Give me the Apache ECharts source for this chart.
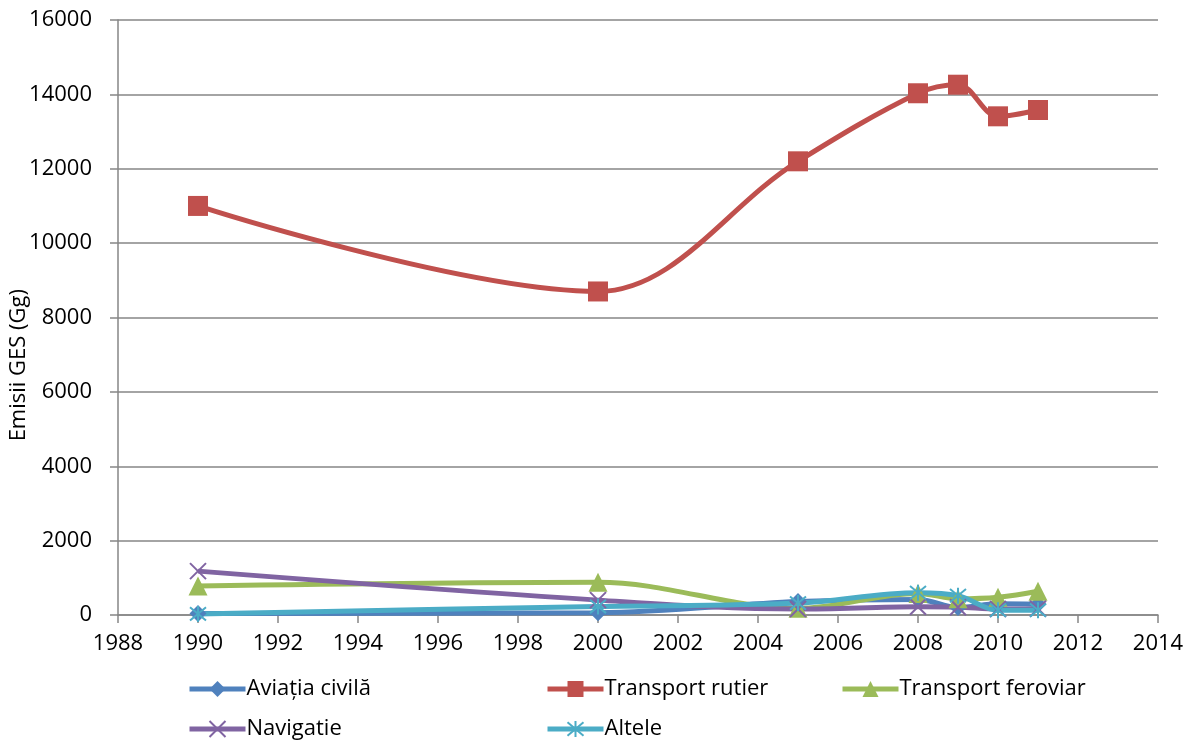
<!DOCTYPE html>
<html>
<head>
<meta charset="utf-8">
<script src="https://cdn.jsdelivr.net/npm/echarts@6/dist/echarts.min.js"></script>
<style>
  html, body { margin: 0; padding: 0; background: #fff; }
  #main { width: 1195px; height: 742px; }
</style>
</head>
<body>
<div id="main"></div>
<script>
// years of the inventory
var years = [1990, 2000, 2005, 2008, 2009, 2010, 2011];

// emisii GES (Gg) per sector
var aviatia   = [40, 60, 360, 420, 200, 300, 290];
var rutier    = [11000, 8700, 12200, 14030, 14260, 13410, 13580];
var feroviar  = [780, 880, 180, 580, 440, 480, 640];
var navigatie = [1180, 400, 160, 220, 210, 160, 170];
var altele    = [30, 230, 320, 600, 520, 130, 130];

var names = ['Aviația civilă', 'Transport rutier', 'Transport feroviar', 'Navigatie', 'Altele'];
var colors = ['#4F81BD', '#C0504D', '#9BBB59', '#8064A2', '#4BACC6'];

var xMark = 'path://M0,0L10,10M0,10L10,0';
var starMark = 'path://M0,0L10,10M0,10L10,0M5,-1L5,11';

function pairs(vals) {
  return years.map(function (y, i) { return [y, vals[i]]; });
}

var fontFam = '"Open Sans", "DejaVu Sans", sans-serif';

function mkSeries(name, vals, color, symbol, size, outline) {
  return {
    name: name,
    type: 'line',
    smooth: 0.35,
    data: pairs(vals),
    symbol: symbol,
    symbolSize: size,
    lineStyle: { color: color, width: 5 },
    itemStyle: outline
      ? { color: color, borderColor: color, borderWidth: 2 }
      : { color: color },
    emphasis: { disabled: true }
  };
}

function mkLegend(name, left, top) {
  return {
    data: [name],
    left: left,
    top: top,
    itemWidth: 56,
    itemHeight: 20,
    itemGap: 0,
    lineStyle: { width: 5 },
    textStyle: { fontSize: 22, color: '#000', fontFamily: fontFam, padding: [0, 0, 0, -4] }
  };
}

var option = {
  animation: false,
  backgroundColor: '#fff',
  color: colors,
  grid: { left: 118, right: 37, top: 20, bottom: 127 },
  legend: [
    mkLegend(names[0], 182, 673),
    mkLegend(names[1], 540, 673),
    mkLegend(names[2], 835, 673),
    mkLegend(names[3], 182, 713),
    mkLegend(names[4], 540, 713)
  ],
  graphic: [{
    type: 'text',
    left: 8,
    top: 289,
    rotation: Math.PI / 2,
    style: {
      text: 'Emisii GES (Gg)',
      fontSize: 22,
      fontFamily: fontFam,
      fill: '#000'
    }
  }],
  xAxis: {
    type: 'value',
    min: 1988,
    max: 2014,
    interval: 2,
    axisLine: { lineStyle: { color: '#868686', width: 1.5 } },
    axisTick: { show: true, length: 8, lineStyle: { color: '#868686', width: 1.5 } },
    axisLabel: { color: '#000', fontSize: 22, fontFamily: fontFam, margin: 18, formatter: function (v) { return String(v); } },
    splitLine: { show: false }
  },
  yAxis: {
    type: 'value',
    min: 0,
    max: 16000,
    interval: 2000,
    axisLine: { show: true, lineStyle: { color: '#868686', width: 1.5 } },
    axisTick: { show: true, length: 8, lineStyle: { color: '#868686', width: 1.5 } },
    axisLabel: { color: '#000', fontSize: 22, fontFamily: fontFam, margin: 26, formatter: function (v) { return String(v); } },
    splitLine: { lineStyle: { color: '#868686', width: 1.5 } }
  },
  series: [
    mkSeries(names[0], aviatia, colors[0], 'diamond', 17, false),
    mkSeries(names[1], rutier, colors[1], 'rect', 20, false),
    mkSeries(names[2], feroviar, colors[2], 'triangle', 19, false),
    mkSeries(names[3], navigatie, colors[3], xMark, 16, true),
    mkSeries(names[4], altele, colors[4], starMark, 16, true)
  ]
};

var chart = echarts.init(document.getElementById('main'));
chart.setOption(option);
</script>
</body>
</html>
